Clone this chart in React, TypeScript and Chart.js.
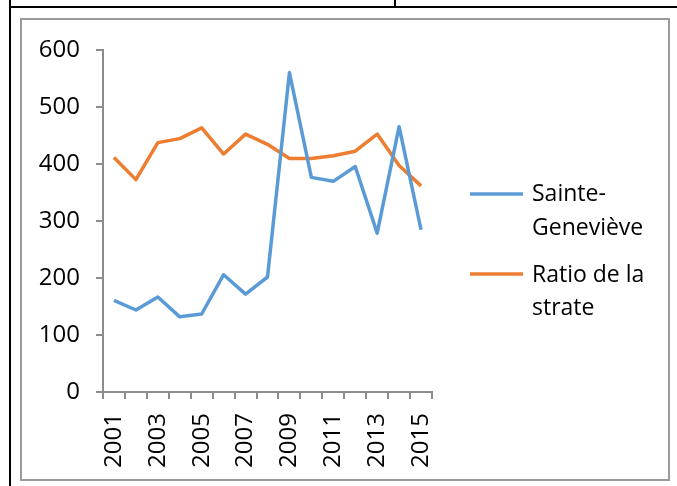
import React, { useEffect, useRef } from 'react';
import { Chart, registerables } from 'chart.js';

Chart.register(...registerables);

const years = ['2001', '2002', '2003', '2004', '2005', '2006', '2007', '2008', '2009', '2010', '2011', '2012', '2013', '2014', '2015'];
const sainteGenevieve = [161, 144, 167, 132, 137, 206, 172, 202, 561, 377, 370, 396, 279, 466, 285];
const ratioStrate = [412, 373, 438, 445, 464, 418, 453, 435, 410, 410, 415, 423, 453, 398, 362];
const seriesLabels = ['Sainte-Geneviève', 'Ratio de la strate'];
const legendLines = [['Sainte-', 'Geneviève'], ['Ratio de la', 'strate']];
const seriesColors = ['#5B9BD5', '#ED7D31'];
const yMin = 0;
const yMax = 600;
const yStep = 100;

const FONT = '"Open Sans", "DejaVu Sans", sans-serif';
const AXIS_GRAY = '#8c8c8c';

const sideLegend = {
  id: 'sideLegend',
  afterDraw(chart: any) {
    const ctx = chart.ctx;
    const area = chart.chartArea;
    const lineX0 = area.right + 38;
    const lineX1 = area.right + 91;
    const textX = area.right + 100;
    const blocks = [
      { lineY: 174, textY: [174, 208] },
      { lineY: 254, textY: [255, 288] },
    ];
    ctx.save();
    legendLines.forEach((lines, i) => {
      const b = blocks[i];
      ctx.strokeStyle = seriesColors[i];
      ctx.lineWidth = 3.5;
      ctx.beginPath();
      ctx.moveTo(lineX0, b.lineY);
      ctx.lineTo(lineX1, b.lineY);
      ctx.stroke();
      ctx.fillStyle = '#000';
      ctx.font = `23px ${FONT}`;
      ctx.textAlign = 'left';
      ctx.textBaseline = 'middle';
      lines.forEach((t, j) => ctx.fillText(t, textX, b.textY[j]));
    });
    ctx.restore();
  },
};

export default function App() {
  const ref = useRef<HTMLCanvasElement | null>(null);

  useEffect(() => {
    if (!ref.current) return;
    const chart = new Chart(ref.current, {
      type: 'line',
      data: {
        labels: years,
        datasets: [
          {
            label: seriesLabels[0],
            data: sainteGenevieve,
            borderColor: seriesColors[0],
            backgroundColor: seriesColors[0],
            borderWidth: 3.5,
            pointRadius: 0,
            tension: 0,
            borderJoinStyle: 'round',
          },
          {
            label: seriesLabels[1],
            data: ratioStrate,
            borderColor: seriesColors[1],
            backgroundColor: seriesColors[1],
            borderWidth: 3.5,
            pointRadius: 0,
            tension: 0,
            borderJoinStyle: 'round',
          },
        ],
      },
      options: {
        responsive: false,
        animation: false,
        layout: { padding: { top: 27, right: 236, bottom: 0, left: 0 } },
        plugins: {
          legend: { display: false },
          tooltip: { enabled: false },
          title: { display: false },
        },
        scales: {
          x: {
            offset: true,
            grid: {
              offset: true,
              drawOnChartArea: false,
              drawTicks: true,
              tickLength: 7,
              color: AXIS_GRAY,
              lineWidth: 2,
            },
            border: { display: true, color: AXIS_GRAY, width: 2 },
            ticks: {
              autoSkip: false,
              maxRotation: 90,
              minRotation: 90,
              padding: 14,
              color: '#000',
              font: { family: FONT, size: 24 },
              callback: (_v: any, i: number) => (i % 2 === 0 ? years[i] : ''),
            },
            afterFit: (scale: any) => {
              scale.height = 87;
            },
          },
          y: {
            min: yMin,
            max: yMax,
            grid: {
              drawOnChartArea: false,
              drawTicks: true,
              tickLength: 7,
              color: AXIS_GRAY,
              lineWidth: 2,
            },
            border: { display: true, color: AXIS_GRAY, width: 2 },
            ticks: {
              stepSize: yStep,
              padding: 16,
              color: '#000',
              font: { family: FONT, size: 24 },
            },
            afterFit: (scale: any) => {
              scale.width = 81;
            },
          },
        },
      },
      plugins: [sideLegend],
    });
    return () => chart.destroy();
  }, []);

  return (
    <div style={{ position: 'absolute', left: 0, top: 0, width: 677, height: 486, background: '#fff', overflow: 'hidden' }}>
      <div style={{ position: 'absolute', left: 9, top: 0, width: 2, height: 486, background: '#000' }} />
      <div style={{ position: 'absolute', left: 9, top: 6, width: 668, height: 2, background: '#000' }} />
      <div style={{ position: 'absolute', left: 394, top: 0, width: 2, height: 8, background: '#000' }} />
      <div
        style={{
          position: 'absolute',
          left: 20,
          top: 18,
          width: 646,
          height: 459,
          border: '2px solid #9a9a9a',
        }}
      >
        <canvas ref={ref} width={646} height={459} style={{ display: 'block', width: 646, height: 459 }} />
      </div>
    </div>
  );
}
